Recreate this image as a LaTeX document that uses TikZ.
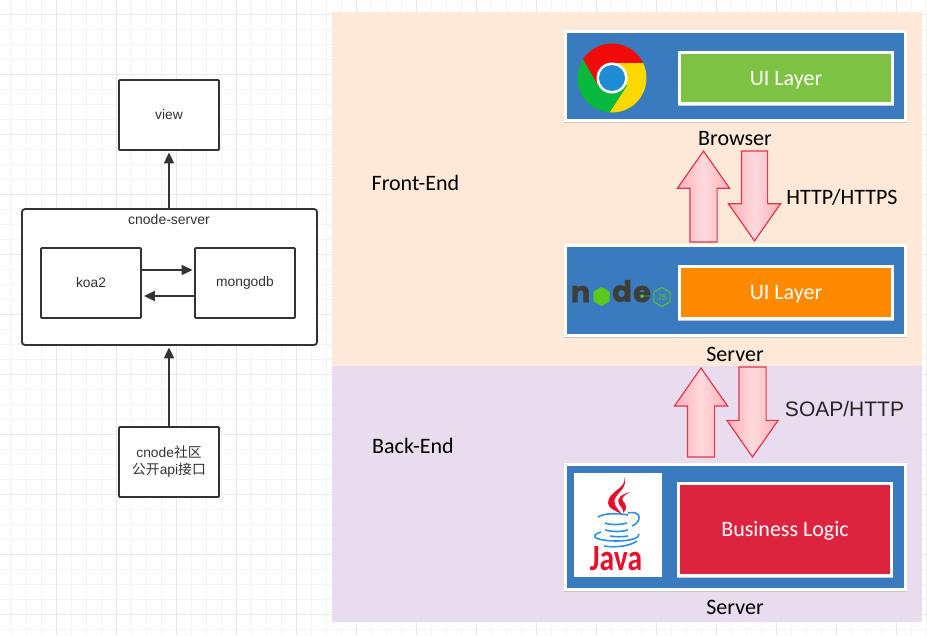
\documentclass[tikz,border=0pt]{standalone}
\usepackage{fontspec}
\setmainfont{Liberation Sans}
\newfontfamily\cjkf{Noto Sans CJK SC}
\newfontfamily\carl{Carlito}
\newfontfamily\popp[UprightFont=* Bold,FakeBold=1.5]{Poppins}
\usetikzlibrary{arrows.meta,shapes.arrows,shapes.geometric}
\definecolor{ink}{HTML}{333333}
\definecolor{gridmajor}{HTML}{E9E9E9}
\definecolor{gridminor}{HTML}{F4F4F4}
\definecolor{panelfront}{HTML}{FEE9D9}
\definecolor{panelback}{HTML}{E9DCEE}
\definecolor{tierblue}{HTML}{3A7ABF}
\definecolor{layergreen}{HTML}{7DC242}
\definecolor{layerorange}{HTML}{FF8A00}
\definecolor{layerred}{HTML}{DC243F}
\definecolor{arrowedge}{HTML}{E0354F}
\definecolor{arrowside}{HTML}{FFB0B8}
\definecolor{arrowmid}{HTML}{FFDADD}
\definecolor{nodedark}{HTML}{3E3E36}
\definecolor{nodegreen}{HTML}{5BC81E}
\definecolor{javared}{HTML}{E8102A}
\definecolor{javablue}{HTML}{2F8FE0}
\definecolor{chromered}{HTML}{F00A0A}
\definecolor{chromeyellow}{HTML}{FFD800}
\definecolor{chromegreen}{HTML}{08B83C}
\definecolor{chromeblue}{HTML}{1E8CD2}
\tikzset{
  plainbox/.style={draw=ink,line width=1.8pt,fill=white,inner sep=0pt,minimum width=100pt,minimum height=70pt,rounded corners=1pt,text=ink,font=\fontsize{13.8}{17}\selectfont,align=center},
  groupbox/.style={draw=ink,line width=1.8pt,fill=white,inner sep=0pt,minimum width=295pt,minimum height=136pt,rounded corners=3pt},
  flow/.style={draw=ink,line width=1.8pt,-{Triangle[length=11pt,width=10pt]}},
  tier/.style={draw=white,line width=3pt,fill=tierblue,inner sep=0pt,minimum width=340pt,
    preaction={draw=black!22,line width=3pt,transform canvas={yshift=-1pt}}},
  layer/.style={draw=white,line width=3pt,inner sep=0pt,minimum width=213pt,text=white,
    text height=14pt,text depth=0pt,
    font=\carl\fontsize{22}{26}\selectfont,
    preaction={draw=black!22,line width=3pt,transform canvas={yshift=-1pt}}},
  caption/.style={inner sep=0pt,text=black,font=\carl\fontsize{22}{26}\selectfont},
  blockarrow/.style={single arrow,anchor=tip,draw=arrowedge,line width=1.2pt,inner sep=0pt,
    left color=arrowside,right color=arrowside,middle color=arrowmid,single arrow tip angle=70},
  logoletter/.style={inner sep=0pt,text=nodedark,font=\popp\fontsize{29}{29}\selectfont},
}
\begin{document}
\begin{tikzpicture}[x=1pt,y=-1pt]
\useasboundingbox (0,0) rectangle (927,635);
% grid
\foreach \k in {0,...,61} {\draw[gridminor,line width=.8pt] ({11.7+15*\k},0) -- ({11.7+15*\k},635);}
\foreach \k in {0,...,42} {\draw[gridminor,line width=.8pt] (0,{14.3+15*\k-15}) -- (927,{14.3+15*\k-15});}
\foreach \k in {0,...,15} {\draw[gridmajor,line width=.9pt] ({56.7+60*\k},0) -- ({56.7+60*\k},635);}
\foreach \k in {0,...,10} {\draw[gridmajor,line width=.9pt] (0,{14.3+60*\k}) -- (927,{14.3+60*\k});}
% left diagram
\node[plainbox] (view) at (169,115) {view};
\node[groupbox] (srv) at (169.5,277) {};
\node[inner sep=0pt,text=ink,font=\fontsize{14}{16}\selectfont] (srvlabel) at (169,219.5) {cnode-server};
\node[plainbox] (koa) at (91,283) {koa2};
\node[plainbox] (mongo) at (245,283) {mongodb};
\node[plainbox] (api) at (169,462) {cnode{\cjkf 社区}\\{\cjkf 公开}api{\cjkf 接口}};
\draw[flow] (srv.north -| view.south) -- ([yshift=-1.5pt]view.south);
\draw[flow] (api.north) -- ([yshift=-1.5pt]srv.south -| api.north);
\draw[flow] ([yshift=13pt]koa.east) -- ([yshift=13pt,xshift=-1.5pt]mongo.west);
\draw[flow] ([yshift=-13pt]mongo.west) -- ([yshift=-13pt,xshift=2pt]koa.east);
% panels
\fill[panelfront] (332,12) rectangle (922,366);
\fill[panelback] (332,366) rectangle (922,622);
\node[caption] (fe) at (415.5,183) {Front-End};
\node[caption] (be) at (413,446) {Back-End};
% tiers
\node[tier,minimum height=89pt] (t1) at (735.5,76) {};
\node[tier,minimum height=90pt] (t2) at (735.5,290.5) {};
\node[tier,minimum height=125pt] (t3) at (735.5,526.5) {};
\node[layer,fill=layergreen,minimum height=51pt] (l1) at (786,78) {UI Layer};
\node[layer,fill=layerorange,minimum height=52pt] (l2) at (786,292.5) {UI Layer};
\node[layer,fill=layerred,minimum height=92pt] (l3) at (785,529) {Business Logic};
\node[caption] (c1) at (735,139) {Browser};
\node[caption] (c2) at (735,354) {Server};
\node[caption] (c3) at (735,607) {Server};
\node[caption] (p1) at (842,197) {HTTP/HTTPS};
\node[inner sep=0pt,text=black!85,font=\fontsize{21}{25}\selectfont] (p2) at (844.5,408.5) {SOAP/HTTP};
% block arrows
\node[blockarrow,rotate=90,minimum height=91pt,single arrow head extend=12.5pt] (a1) at (703.5,150) {\rule[-13pt]{0pt}{26pt}};
\node[blockarrow,rotate=-90,minimum height=90pt,single arrow head extend=13pt] (a2) at (754.5,242) {\rule[-12.5pt]{0pt}{25pt}};
\node[blockarrow,rotate=90,minimum height=89pt,single arrow head extend=13pt] (a3) at (701,367) {\rule[-13pt]{0pt}{26pt}};
\node[blockarrow,rotate=-90,minimum height=90pt,single arrow head extend=12pt] (a4) at (752.5,458) {\rule[-13pt]{0pt}{26pt}};
% Chrome logo
\begin{scope}
\clip (612,78) circle (34.5);
\fill[chromegreen] (612,78) circle (34.5);
\fill[chromered] (612,63) -- (652,63) -- (652,40) -- (572,40) -- (583,59) -- (599,87) -- cycle;
\fill[chromeyellow] (612,63) -- (652,63) -- (652,115) -- (608,115) -- (627,86) -- cycle;
\end{scope}
\fill[white] (612,78) circle (15.5);
\fill[chromeblue] (612,78) circle (13);
% node.js logo
\node[logoletter] (nn) at (580.5,294) {n};
\node[regular polygon,regular polygon sides=6,rotate=30,fill=nodegreen,inner sep=0pt,minimum size=19pt] (no) at (601.5,296.5) {};
\node[logoletter] (nd) at (622,291) {d};
\node[logoletter] (ne) at (642,294) {e};
\fill[nodegreen] (ne.center) ++(0,2) circle (1.8);
\node[regular polygon,regular polygon sides=6,rotate=30,draw=nodegreen,line width=1pt,inner sep=0pt,minimum size=19pt] (njs) at (662,297) {};
\node[inner sep=0pt,text=nodegreen,font=\fontsize{8.5}{8.5}\selectfont] (njst) at (662,297.5) {JS};
% Java logo
\node[fill=white,inner sep=0pt,minimum width=88pt,minimum height=104pt] (jv) at (618,525) {};
\fill[javared] (624,477) .. controls (628,488) and (608,491) .. (608,503) .. controls (608,508) and (615,511) .. (622,514) .. controls (616,507) and (612,503) .. (616,497) .. controls (620,490) and (628,487) .. (624,477) -- cycle;
\fill[javared] (630,492) .. controls (622,494) and (616,498) .. (619,504) .. controls (621,508) and (624,509) .. (623,513) .. controls (628,509) and (626,504) .. (623,501) .. controls (621,498) and (624,495) .. (630,492) -- cycle;
\begin{scope}[javablue,line width=1.6pt]
\draw (598,517) .. controls (604,513) and (618,513) .. (628,515);
\draw (605,523) .. controls (610,525) and (620,525) .. (627,523);
\draw (605,530) .. controls (612,532) and (620,532) .. (628,530);
\draw (628,513) .. controls (642,510) and (642,522) .. (632,526);
\draw (610,536) .. controls (616,537) and (622,537) .. (628,536);
\draw (601,532) .. controls (586,537) and (600,541) .. (617,541) .. controls (630,541) and (640,538) .. (639,534);
\draw (604,546) .. controls (616,548) and (630,546) .. (637,541);
\end{scope}
\node[inner sep=0pt,text=javared,xscale=.8,font=\carl\bfseries\fontsize{37}{37}\selectfont] (jvt) at (616,559) {Java};
\end{tikzpicture}
\end{document}
